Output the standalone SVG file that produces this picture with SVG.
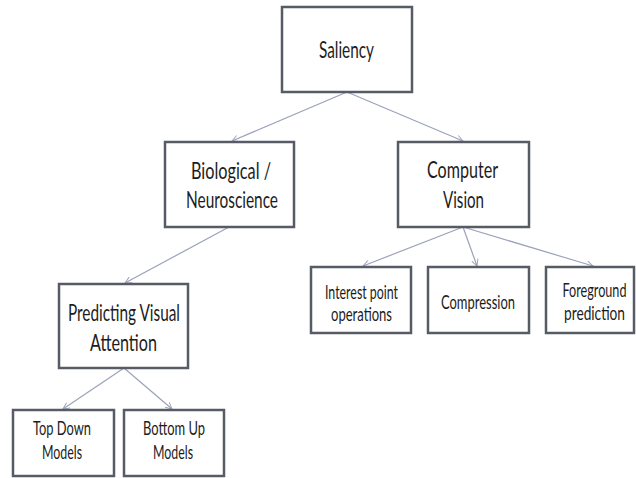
<svg xmlns="http://www.w3.org/2000/svg" width="636" height="478" viewBox="0 0 636 478">
<defs>
<style>
.box{fill:#ffffff;stroke:#575b66;stroke-width:2.5}
.edge{fill:none;stroke:#9ba2ba;stroke-width:1.2}
.t{font-family:Lato,"Open Sans","Liberation Sans",sans-serif;fill:#1c1c1c;text-anchor:middle}
.big{font-size:22.5px}
.small{font-size:19px}
</style>
<marker id="arr" viewBox="0 0 10 10" refX="9" refY="5" markerWidth="8" markerHeight="8" markerUnits="userSpaceOnUse" orient="auto">
<path d="M1,1 L9,5 L1,9" fill="none" stroke="#9ba2ba" stroke-width="1.2"/>
</marker>
</defs>
<rect width="636" height="478" fill="#ffffff"/>
<g id="connectors">
<line class="edge" x1="347" y1="92" x2="232" y2="141" marker-end="url(#arr)"/>
<line class="edge" x1="347" y1="92" x2="463" y2="141" marker-end="url(#arr)"/>
<line class="edge" x1="229" y1="227" x2="125" y2="283" marker-end="url(#arr)"/>
<line class="edge" x1="463" y1="227" x2="363" y2="266" marker-end="url(#arr)"/>
<line class="edge" x1="463" y1="227" x2="477" y2="266" marker-end="url(#arr)"/>
<line class="edge" x1="463" y1="227" x2="593" y2="266" marker-end="url(#arr)"/>
<line class="edge" x1="124" y1="368" x2="63" y2="409" marker-end="url(#arr)"/>
<line class="edge" x1="124" y1="368" x2="172" y2="409" marker-end="url(#arr)"/>
</g>
<g id="saliency">
<rect class="box" x="282" y="7" width="130" height="85"/>
<text class="t big" x="346.5" y="57.5" textLength="55" lengthAdjust="spacingAndGlyphs">Saliency</text>
</g>
<g id="biological">
<rect class="box" x="165" y="142" width="129" height="85"/>
<text class="t big" x="231" y="178.5" textLength="80" lengthAdjust="spacingAndGlyphs">Biological /</text>
<text class="t big" x="232" y="207.5" textLength="92" lengthAdjust="spacingAndGlyphs">Neuroscience</text>
</g>
<g id="computer-vision">
<rect class="box" x="398" y="142" width="131" height="85"/>
<text class="t big" x="462.5" y="177.5" textLength="71" lengthAdjust="spacingAndGlyphs">Computer</text>
<text class="t big" x="463.5" y="207.5" textLength="41" lengthAdjust="spacingAndGlyphs">Vision</text>
</g>
<g id="predicting">
<rect class="box" x="59" y="284" width="129" height="84"/>
<text class="t big" x="124" y="320.5" textLength="112" lengthAdjust="spacingAndGlyphs">Predicting Visual</text>
<text class="t big" x="123.5" y="350.5" textLength="67" lengthAdjust="spacingAndGlyphs">Attention</text>
</g>
<g id="top-down">
<rect class="box" x="13" y="410" width="101" height="66"/>
<text class="t small" x="62" y="434.5" textLength="58" lengthAdjust="spacingAndGlyphs">Top Down</text>
<text class="t small" x="62" y="459" textLength="40" lengthAdjust="spacingAndGlyphs">Models</text>
</g>
<g id="bottom-up">
<rect class="box" x="124" y="410" width="100" height="66"/>
<text class="t small" x="174" y="434.5" textLength="62" lengthAdjust="spacingAndGlyphs">Bottom Up</text>
<text class="t small" x="173" y="459" textLength="40" lengthAdjust="spacingAndGlyphs">Models</text>
</g>
<g id="interest-point">
<rect class="box" x="311" y="267" width="100" height="66"/>
<text class="t small" x="361.5" y="298.5" textLength="73" lengthAdjust="spacingAndGlyphs">Interest point</text>
<text class="t small" x="361.5" y="320.5" textLength="61" lengthAdjust="spacingAndGlyphs">operations</text>
</g>
<g id="compression">
<rect class="box" x="428" y="267" width="101" height="66"/>
<text class="t small" x="478" y="308.5" textLength="74" lengthAdjust="spacingAndGlyphs">Compression</text>
</g>
<g id="foreground">
<rect class="box" x="546" y="267" width="88" height="66"/>
<g transform="translate(594.5 0) scale(0.7 1)">
<text class="t small" x="0" y="297.5" textLength="91.4" lengthAdjust="spacingAndGlyphs">Foreground</text>
<text class="t small" x="0" y="320.5" textLength="87.1" lengthAdjust="spacingAndGlyphs">prediction</text>
</g>
</g>
</svg>
